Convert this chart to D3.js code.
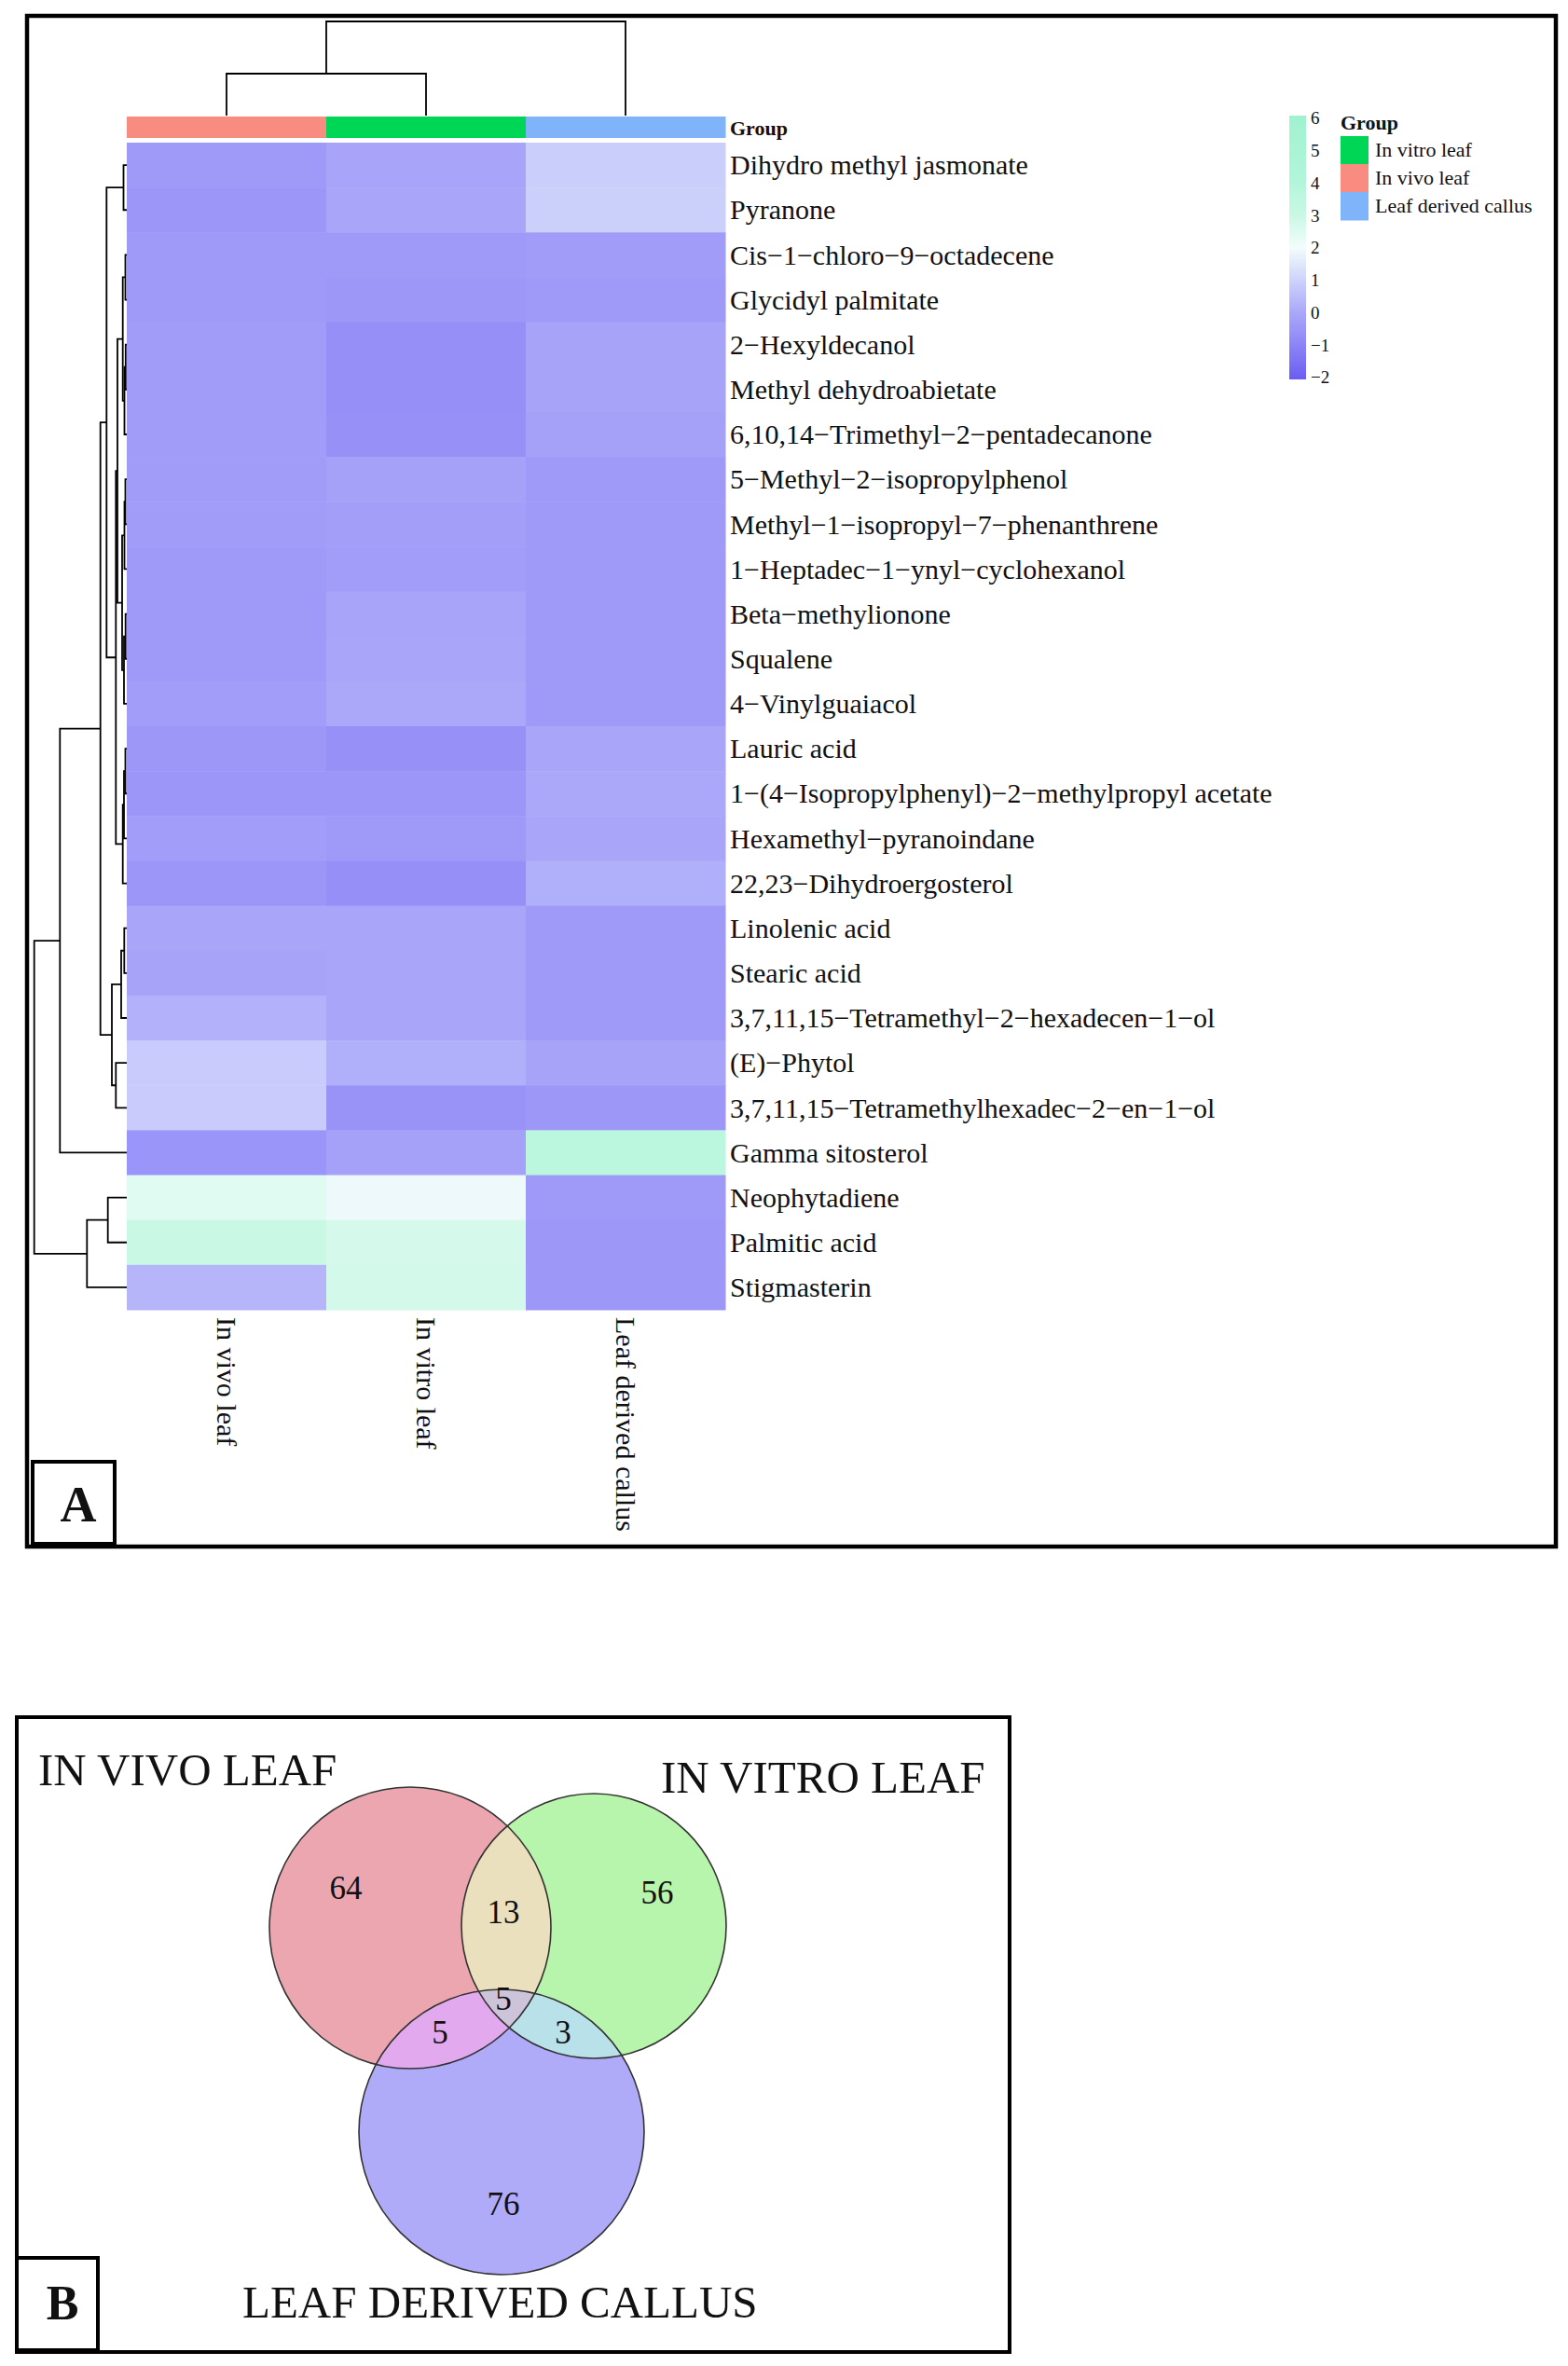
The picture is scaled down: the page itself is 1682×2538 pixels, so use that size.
<!DOCTYPE html>
<html>
<head>
<meta charset="utf-8">
<script src="https://cdn.jsdelivr.net/npm/d3@7"></script>
<style>
  body { margin: 0; background: #fff; }
  text { font-family: "Liberation Serif", "Times New Roman", serif; fill: #111; }
</style>
</head>
<body>
<svg id="chart" width="1682" height="2538"></svg>
<script>
// ---- data ----
const samples = ["In vivo leaf", "In vitro leaf", "Leaf derived callus"];
const compounds = [
  "Dihydro methyl jasmonate", "Pyranone", "Cis−1−chloro−9−octadecene", "Glycidyl palmitate",
  "2−Hexyldecanol", "Methyl dehydroabietate", "6,10,14−Trimethyl−2−pentadecanone",
  "5−Methyl−2−isopropylphenol", "Methyl−1−isopropyl−7−phenanthrene", "1−Heptadec−1−ynyl−cyclohexanol",
  "Beta−methylionone", "Squalene", "4−Vinylguaiacol", "Lauric acid",
  "1−(4−Isopropylphenyl)−2−methylpropyl acetate", "Hexamethyl−pyranoindane", "22,23−Dihydroergosterol",
  "Linolenic acid", "Stearic acid", "3,7,11,15−Tetramethyl−2−hexadecen−1−ol", "(E)−Phytol",
  "3,7,11,15−Tetramethylhexadec−2−en−1−ol", "Gamma sitosterol", "Neophytadiene", "Palmitic acid", "Stigmasterin"
];
// scaled abundance (z-score) per sample, in row order above
const inVivo  = [-0.35, -0.45, -0.35, -0.35, -0.3, -0.3, -0.3, -0.3, -0.3, -0.35, -0.35, -0.35, -0.25,
                 -0.4, -0.45, -0.25, -0.45, 0.0, -0.1, 0.25, 0.85, 0.85, -0.5, 2.45, 3.0, 0.35];
const inVitro = [-0.05, 0.0, -0.35, -0.4, -0.65, -0.65, -0.6, -0.15, -0.2, -0.25, -0.05, 0.0, 0.05,
                 -0.6, -0.45, -0.35, -0.65, 0.0, 0.0, 0.0, 0.2, -0.55, -0.15, 1.9, 2.7, 2.75];
const callus  = [0.9, 0.95, -0.3, -0.35, -0.1, -0.1, -0.15, -0.35, -0.35, -0.35, -0.35, -0.35, -0.35,
                 0.0, 0.05, 0.0, 0.2, -0.35, -0.35, -0.35, -0.1, -0.4, 3.6, -0.35, -0.4, -0.4];

const groupColors = ["#f98c80", "#00d656", "#7fb4fa"];          // per sample
const legendGroups = ["In vitro leaf", "In vivo leaf", "Leaf derived callus"];
const colorTicks = [-2, -1, 0, 1, 2, 3, 4, 5, 6];
const colorStops = [-2, -1, 0, 1, 2, 3, 4, 6];
const colorRange = ["#6b5cf1", "#8b83f6", "#a9a6f9", "#cdd2fb", "#f2fdfb", "#c9f8e5", "#b2f5da", "#a0f2d0"];

// clustering trees: node(height, children...) ; leaves are row / column indices
const node = (h, ...c) => ({ h, c });
const rowTree = node(99.3,
  node(71.7,
    node(28.3,
      node(21.7,
        node(3.5, 0, 1),
        node(11.7,
          node(10,
            node(4.3, node(1.5, 2, 3), node(2.5, node(1.2, 4, 5), 6)),
            node(5, node(2.5, node(1.5, 7, 8), 9), node(3, node(1.3, 10, 11), 12))),
          node(4.3, node(3, node(1.5, 13, 14), 15), 16))),
      node(16,
        node(6, node(2.7, 17, 18), 19),
        node(11.7, 20, 21))),
    22),
  node(42.7, node(20.3, 23, 24), 25));
const colTree = node(101, node(45, 0, 1), 2);

// venn
const vennTitles = ["IN VIVO LEAF", "IN VITRO LEAF", "LEAF DERIVED CALLUS"];
const vennOnly = [64, 56, 76];          // vivo, vitro, callus
const vennPairs = [13, 5, 3];           // vivo∩vitro, vivo∩callus, vitro∩callus
const vennAll = 5;

// ---- drawing ----
const svg = d3.select("#chart");
const values = [inVivo, inVitro, callus];

const x = d3.scaleBand().domain(samples).range([136, 778]);
const y = d3.scaleBand().domain(compounds).range([153, 1405]);
const color = d3.scaleLinear().domain(colorStops).range(colorRange);

// panel A frame
svg.append("rect").attr("x", 29).attr("y", 17).attr("width", 1640).attr("height", 1642)
  .attr("fill", "none").attr("stroke", "#000").attr("stroke-width", 4.5);

// cells
const cells = [];
samples.forEach((s, j) => compounds.forEach((c, i) => cells.push({ s, c, v: values[j][i] })));
svg.append("g").selectAll("rect").data(cells).join("rect")
  .attr("x", d => x(d.s)).attr("y", d => y(d.c))
  .attr("width", x.bandwidth() + 0.5).attr("height", y.bandwidth() + 0.5)
  .attr("fill", d => color(d.v));

// group annotation bar
svg.append("g").selectAll("rect").data(samples).join("rect")
  .attr("x", d => x(d)).attr("y", 125).attr("width", x.bandwidth() + 0.5).attr("height", 23)
  .attr("fill", (d, i) => groupColors[i]);
svg.append("text").attr("x", 783).attr("y", 137).attr("dy", "0.35em")
  .attr("font-size", 22).attr("font-weight", "bold").text("Group");

// row labels
svg.append("g").selectAll("text").data(compounds).join("text")
  .attr("x", 783).attr("y", d => y(d) + y.bandwidth() / 2).attr("dy", "0.34em")
  .attr("font-size", 30).text(d => d);

// column labels
svg.append("g").selectAll("text").data(samples).join("text")
  .attr("transform", d => `translate(${x(d) + x.bandwidth() / 2},1413) rotate(90)`)
  .attr("dy", "0.34em").attr("font-size", 30).text(d => d);

// dendrograms
function layoutTree(tree, leafPos) {
  const root = d3.hierarchy(tree, d => (typeof d === "number" ? null : d.c));
  root.eachAfter(n => {
    if (!n.children) { n.pos = leafPos(n.data); n.height0 = 0; }
    else { n.pos = d3.mean(n.children, k => k.pos); n.height0 = n.data.h; }
  });
  return root;
}
const rowH = d3.scaleLinear().domain([0, 99.3]).range([136, 36.7]);
const rowRoot = layoutTree(rowTree, i => y(compounds[i]) + y.bandwidth() / 2);
svg.append("g").selectAll("path").data(rowRoot.descendants().filter(n => n.children)).join("path")
  .attr("fill", "none").attr("stroke", "#000").attr("stroke-width", 1.8)
  .attr("d", n => {
    const [a, b] = n.children;
    return `M${rowH(a.height0)},${a.pos}H${rowH(n.height0)}V${b.pos}H${rowH(b.height0)}`;
  });

const colH = d3.scaleLinear().domain([0, 101]).range([124, 23]);
const colRoot = layoutTree(colTree, j => x(samples[j]) + x.bandwidth() / 2);
svg.append("g").selectAll("path").data(colRoot.descendants().filter(n => n.children)).join("path")
  .attr("fill", "none").attr("stroke", "#000").attr("stroke-width", 1.8)
  .attr("d", n => {
    const [a, b] = n.children;
    return `M${a.pos},${colH(a.height0)}V${colH(n.height0)}H${b.pos}V${colH(b.height0)}`;
  });

// colour key
const key = d3.scaleLinear().domain([-2, 6]).range([405, 127]);
const grad = svg.append("defs").append("linearGradient").attr("id", "keygrad")
  .attr("x1", 0).attr("x2", 0).attr("y1", 1).attr("y2", 0);
grad.selectAll("stop").data(d3.range(-2, 6.01, 0.25)).join("stop")
  .attr("offset", d => (d + 2) / 8).attr("stop-color", d => color(d));
svg.append("rect").attr("x", 1383).attr("y", 124).attr("width", 18).attr("height", 283)
  .attr("fill", "url(#keygrad)");
svg.append("g").selectAll("text").data(colorTicks).join("text")
  .attr("x", 1406).attr("y", d => key(d)).attr("dy", "0.34em").attr("font-size", 19)
  .text(d => d < 0 ? "−" + Math.abs(d) : d);

// group legend
svg.append("text").attr("x", 1438).attr("y", 132).attr("dy", "0.34em")
  .attr("font-size", 22).attr("font-weight", "bold").text("Group");
const legY = d3.scaleBand().domain(legendGroups).range([146, 236]);
svg.append("g").selectAll("rect").data(legendGroups).join("rect")
  .attr("x", 1438).attr("y", d => legY(d)).attr("width", 30).attr("height", legY.bandwidth() + 0.5)
  .attr("fill", d => groupColors[samples.indexOf(d)]);
svg.append("g").selectAll("text").data(legendGroups).join("text")
  .attr("x", 1475).attr("y", d => legY(d) + legY.bandwidth() / 2).attr("dy", "0.34em")
  .attr("font-size", 22).text(d => d);

// panel label A
svg.append("rect").attr("x", 35).attr("y", 1568).attr("width", 88).attr("height", 88)
  .attr("fill", "#fff").attr("stroke", "#000").attr("stroke-width", 4);
svg.append("text").attr("x", 84).attr("y", 1632).attr("text-anchor", "middle")
  .attr("font-size", 54).attr("font-weight", "bold").text("A");

// ---- panel B: venn ----
svg.append("rect").attr("x", 18).attr("y", 1842).attr("width", 1065).attr("height", 681)
  .attr("fill", "none").attr("stroke", "#000").attr("stroke-width", 4);

const circles = [
  { cx: 440, cy: 2068, r: 151 },
  { cx: 637, cy: 2066, r: 142 },
  { cx: 538, cy: 2287, r: 153 }
];
const setFill = ["#eba6b0", "#b8f5ac", "#afabf9"];
const pairFill = ["#ebe0bd", "#e2a9ee", "#b9e1ea"];
const allFill = "#cdc4da";

const defs = svg.append("defs");
circles.forEach((c, i) => defs.append("clipPath").attr("id", "vc" + i)
  .append("circle").attr("cx", c.cx).attr("cy", c.cy).attr("r", c.r));

const venn = svg.append("g");
const disc = (g, c, fill) => g.append("circle").attr("cx", c.cx).attr("cy", c.cy).attr("r", c.r).attr("fill", fill);
circles.forEach((c, i) => disc(venn, c, setFill[i]));
const pairs = [[0, 1], [0, 2], [1, 2]];
pairs.forEach(([a, b], k) => disc(venn.append("g").attr("clip-path", `url(#vc${a})`), circles[b], pairFill[k]));
disc(venn.append("g").attr("clip-path", "url(#vc0)").append("g").attr("clip-path", "url(#vc1)"), circles[2], allFill);
venn.selectAll("circle.outline").data(circles).join("circle").attr("class", "outline")
  .attr("cx", d => d.cx).attr("cy", d => d.cy).attr("r", d => d.r)
  .attr("fill", "none").attr("stroke", "#333").attr("stroke-width", 1.6);

// region counts
const onlyPos = [[371, 2037], [705, 2042], [540, 2376]];
const pairPos = [[540, 2063], [472, 2192], [604, 2192]];
const counts = vennOnly.map((v, i) => ({ v, p: onlyPos[i] }))
  .concat(vennPairs.map((v, i) => ({ v, p: pairPos[i] })))
  .concat([{ v: vennAll, p: [540, 2156] }]);
svg.append("g").selectAll("text").data(counts).join("text")
  .attr("x", d => d.p[0]).attr("y", d => d.p[1]).attr("text-anchor", "middle")
  .attr("font-size", 35).text(d => d.v);

// set titles
const titlePos = [[41, 1915], [709, 1923], [260, 2486]];
svg.append("g").selectAll("text").data(vennTitles).join("text")
  .attr("x", (d, i) => titlePos[i][0]).attr("y", (d, i) => titlePos[i][1])
  .attr("font-size", 49).text(d => d);

// panel label B
svg.append("rect").attr("x", 18).attr("y", 2422).attr("width", 87).attr("height", 99)
  .attr("fill", "#fff").attr("stroke", "#000").attr("stroke-width", 4);
svg.append("text").attr("x", 67).attr("y", 2488).attr("text-anchor", "middle")
  .attr("font-size", 52).attr("font-weight", "bold").text("B");
</script>
</body>
</html>
